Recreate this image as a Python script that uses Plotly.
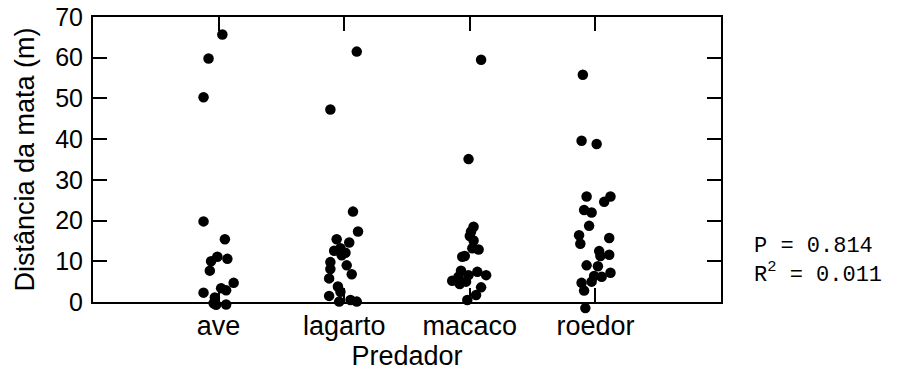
import plotly.graph_objects as go

categories = ["ave", "lagarto", "macaco", "roedor"]

ave_values = [65.7, 59.8, 50.3, 19.8, 15.4, 11.1, 10.6, 10.0, 7.7, 4.7, 3.4, 2.9, 2.3, 1.1, -0.3, -0.7, -0.6]
ave_jitter = [0.03, -0.08, -0.12, -0.12, 0.05, -0.01, 0.07, -0.06, -0.07, 0.12, 0.02, 0.06, -0.12, -0.03, -0.04, -0.02, 0.06]

lagarto_values = [61.5, 47.3, 22.2, 17.3, 15.4, 14.6, 13.2, 12.6, 12.1, 11.5, 9.8, 9.0, 8.1, 6.8, 5.8, 3.8, 2.5, 1.5, 0.1, 0.5, 0.1]
lagarto_jitter = [0.10, -0.11, 0.07, 0.11, -0.06, 0.04, -0.03, -0.08, 0.01, -0.02, -0.11, 0.02, -0.11, 0.06, -0.12, -0.05, -0.03, -0.12, -0.04, 0.05, 0.10]

macaco_values = [59.5, 35.1, 18.5, 17.3, 16.2, 15.1, 13.2, 12.9, 11.3, 11.1, 7.7, 7.4, 6.6, 6.6, 6.2, 5.2, 5.0, 4.4, 3.6, 1.7, 0.5]
macaco_jitter = [0.09, -0.01, 0.03, 0.01, 0.00, 0.03, 0.02, 0.07, -0.04, -0.06, -0.07, 0.06, 0.13, -0.01, -0.09, -0.14, -0.03, -0.08, 0.09, 0.05, -0.02]

roedor_values = [55.8, 39.6, 38.8, 25.9, 25.9, 24.6, 22.6, 22.0, 18.7, 16.4, 14.3, 15.7, 12.5, 11.3, 11.6, 9.0, 8.8, 7.2, 6.2, 6.4, 5.0, 4.7, 2.8, -1.5]
roedor_jitter = [-0.10, -0.11, 0.01, -0.07, 0.12, 0.07, -0.09, -0.03, -0.05, -0.13, -0.12, 0.11, 0.03, 0.04, 0.11, -0.07, 0.02, 0.12, 0.05, -0.01, -0.03, -0.11, -0.09, -0.08]

y_ticks = [0, 10, 20, 30, 40, 50, 60, 70]
stats_text = "P = 0.814<br>R<sup>2</sup> = 0.011"

series = [ave_values, lagarto_values, macaco_values, roedor_values]
jitters = [ave_jitter, lagarto_jitter, macaco_jitter, roedor_jitter]

# the page body adds an 8px offset, so the figure is 8px smaller than the window
OFF = 8
W, H = 911 - OFF, 372 - OFF
left, right = 93 - OFF, 721 - OFF
top, bottom_area, axis_bottom = 17 - OFF, 312 - OFF, 302 - OFF
area_h = bottom_area - top
y_dom0 = (bottom_area - axis_bottom) / area_h
px_per_unit = (axis_bottom - top) / 70.0
y2_min = -(bottom_area - axis_bottom) / px_per_unit

fig = go.Figure()
# empty trace so the main x/y subplot (with the visible axes) exists
fig.add_trace(go.Scatter(x=[None], y=[None], xaxis="x", yaxis="y",
                         mode="markers", showlegend=False, hoverinfo="skip"))
for i, (vals, jit) in enumerate(zip(series, jitters)):
    fig.add_trace(go.Scatter(
        x=[i + 1 + j for j in jit],
        y=vals,
        xaxis="x", yaxis="y2",
        mode="markers",
        marker=dict(color="black", size=10.5, line=dict(width=0)),
        cliponaxis=False,
        showlegend=False,
        name=categories[i],
    ))

axis_common = dict(
    showline=True, linecolor="black", linewidth=2, mirror="ticks",
    ticks="inside", ticklen=14, tickwidth=2, tickcolor="black",
    showgrid=False, zeroline=False, automargin=False,
    ticklabeloverflow="allow",
)

fig.update_layout(
    width=W, height=H,
    margin=dict(l=left, r=W - right, t=top, b=H - bottom_area),
    plot_bgcolor="rgba(0,0,0,0)", paper_bgcolor="white",
    font=dict(family="Liberation Sans, Arial, sans-serif", color="black"),
    xaxis=dict(
        range=[0, 5], tickvals=[1, 2, 3, 4], ticktext=categories, anchor="y",
        title=dict(text="Predador", font=dict(size=27, color="black"), standoff=0),
        tickfont=dict(size=27, color="black"), ticklabelstandoff=-1,
        **axis_common,
    ),
    yaxis=dict(
        range=[0, 70], tickvals=y_ticks, domain=[y_dom0, 1], anchor="x",
        title=dict(text="Distância da mata (m)", font=dict(size=27, color="black"), standoff=13),
        tickfont=dict(size=25, color="black"), ticklabelstandoff=3,
        **axis_common,
    ),
    yaxis2=dict(
        range=[y2_min, 70], domain=[0, 1], anchor="x", visible=False,
        showgrid=False, zeroline=False, automargin=False,
    ),
)

fig.add_annotation(
    text=stats_text, xref="paper", yref="paper",
    x=(752 - OFF - left) / (right - left), y=(bottom_area - (261 - OFF)) / area_h,
    xanchor="left", yanchor="middle", showarrow=False, align="left",
    font=dict(family="Liberation Mono, Courier New, monospace", size=22, color="black"),
)

fig.write_html("out.html")
